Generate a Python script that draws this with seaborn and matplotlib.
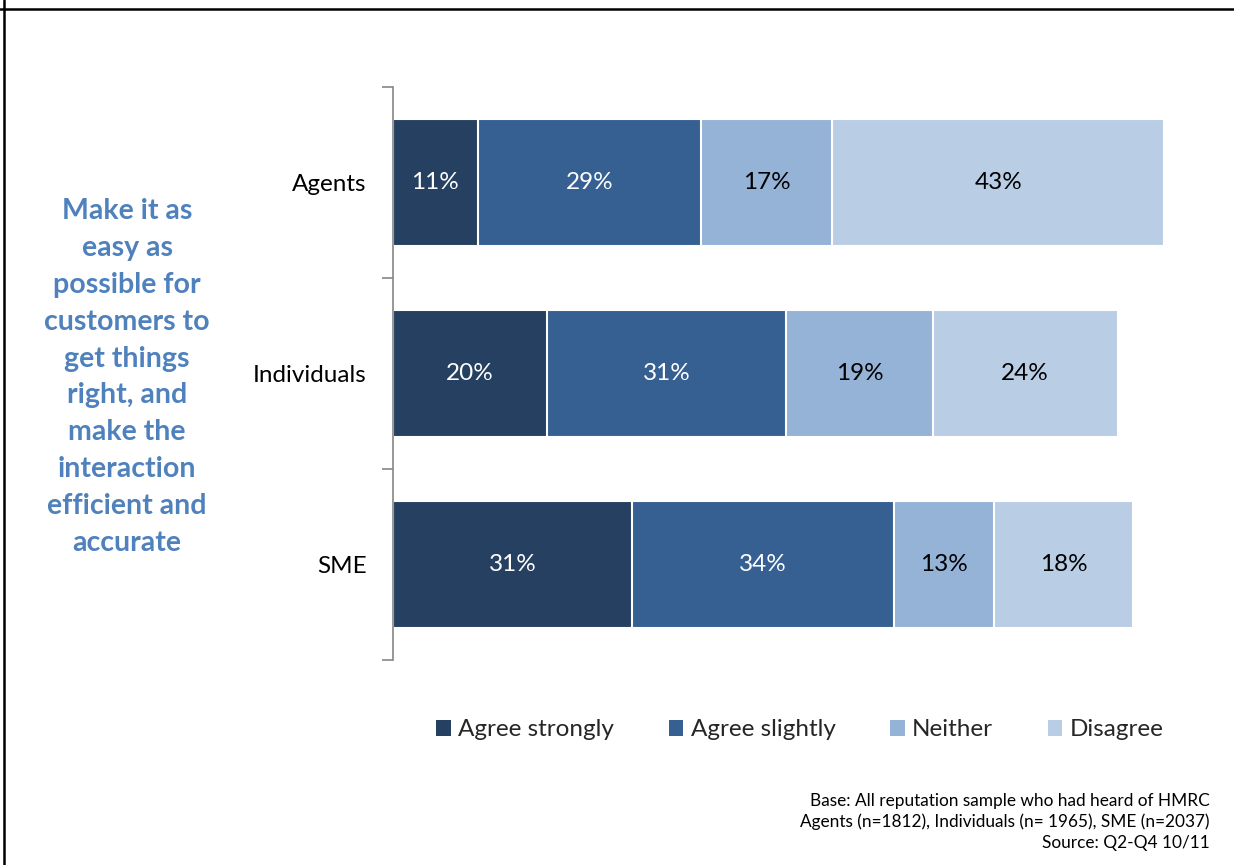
import numpy as np
import pandas as pd
import matplotlib
matplotlib.use("Agg")
import matplotlib.pyplot as plt
from matplotlib.lines import Line2D
from matplotlib.patches import Patch
import seaborn as sns

# Survey responses by customer group (percent)
groups = ["Agents", "Individuals", "SME"]
responses = ["Agree strongly", "Agree slightly", "Neither", "Disagree"]
agree_strongly = [11, 20, 31]
agree_slightly = [29, 31, 34]
neither = [17, 19, 13]
disagree = [43, 24, 18]

colors = ["#264061", "#366092", "#95B3D7", "#B9CDE5"]
label_colors = ["white", "white", "black", "black"]

headline = ("Make it as\neasy as\npossible for\ncustomers to\nget things\n"
            "right, and\nmake the\ninteraction\nefficient and\naccurate")
footnote = ("Base: All reputation sample who had heard of HMRC\n"
            "Agents (n=1812), Individuals (n= 1965), SME (n=2037)\n"
            "Source: Q2-Q4 10/11")

sns.set_theme(style="white")
plt.rcParams["font.family"] = ["Lato", "DejaVu Sans"]

series = [agree_strongly, agree_slightly, neither, disagree]
df = pd.DataFrame({r: s for r, s in zip(responses, series)}, index=groups)
cum = df.cumsum(axis=1)

fig = plt.figure(figsize=(12.34, 8.65), dpi=100)
ax = fig.add_axes([393 / 1234, 1 - 660 / 865, (1164 - 393) / 1234, (660 - 87) / 865])

# Stacked bars: draw cumulative totals from the outermost segment inwards
for resp, col in reversed(list(zip(responses, colors))):
    sns.barplot(x=cum[resp].values, y=groups, orient="h", color=col,
                width=0.66, edgecolor="white", linewidth=1.5, ax=ax,
                saturation=1)

# Segment value labels
for j, resp in enumerate(responses):
    left = cum[resp] - df[resp]
    for i, g in enumerate(groups):
        v = df.loc[g, resp]
        ax.text(left[g] + v / 2, i, f"{v}%", ha="center", va="center",
                fontsize=17.5, color=label_colors[j])

ax.set_xlim(0, 100)
ax.set_ylim(2.5, -0.5)
ax.set_xlabel("")
ax.set_ylabel("")
ax.set_xticks([])
for s in ["top", "right", "bottom"]:
    ax.spines[s].set_visible(False)
ax.spines["left"].set_color("#868686")
ax.spines["left"].set_linewidth(1.2)
ax.spines["left"].set_zorder(5)
ax.tick_params(axis="y", which="major", length=0, pad=19, labelsize=17.5,
               labelcolor="black")
ax.set_yticks(range(len(groups)))
ax.set_yticklabels(groups)
ax.set_yticks([-0.5, 0.5, 1.5, 2.5], minor=True)
ax.tick_params(axis="y", which="minor", length=8, width=1.2, color="#868686",
               direction="out", left=True)

# Legend
handles = [Patch(facecolor=c, edgecolor="none") for c in colors]
fig.legend(handles, responses, loc="center", ncol=4,
           bbox_to_anchor=(800 / 1234, 1 - 730 / 865), frameon=False,
           fontsize=17.5, handlelength=0.6, handleheight=0.6,
           handletextpad=0.3, columnspacing=2.25)

# Side headline
fig.text(127 / 1234, 1 - 377 / 865, headline, ha="center", va="center",
         fontsize=20.5, fontweight="bold", color="#4F81BD", linespacing=1.52)

# Footnote
fig.text(1210 / 1234, 1 - 822 / 865, footnote, ha="right", va="center",
         fontsize=12.4, color="black", linespacing=1.35)

# Slide frame
fig.add_artist(Line2D([3.5 / 1234, 3.5 / 1234], [0, 1], transform=fig.transFigure,
                      color="black", linewidth=1.8))
fig.add_artist(Line2D([0, 1], [1 - 8.5 / 865, 1 - 8.5 / 865],
                      transform=fig.transFigure, color="black", linewidth=1.8))

fig.savefig("out.png", dpi=100)
